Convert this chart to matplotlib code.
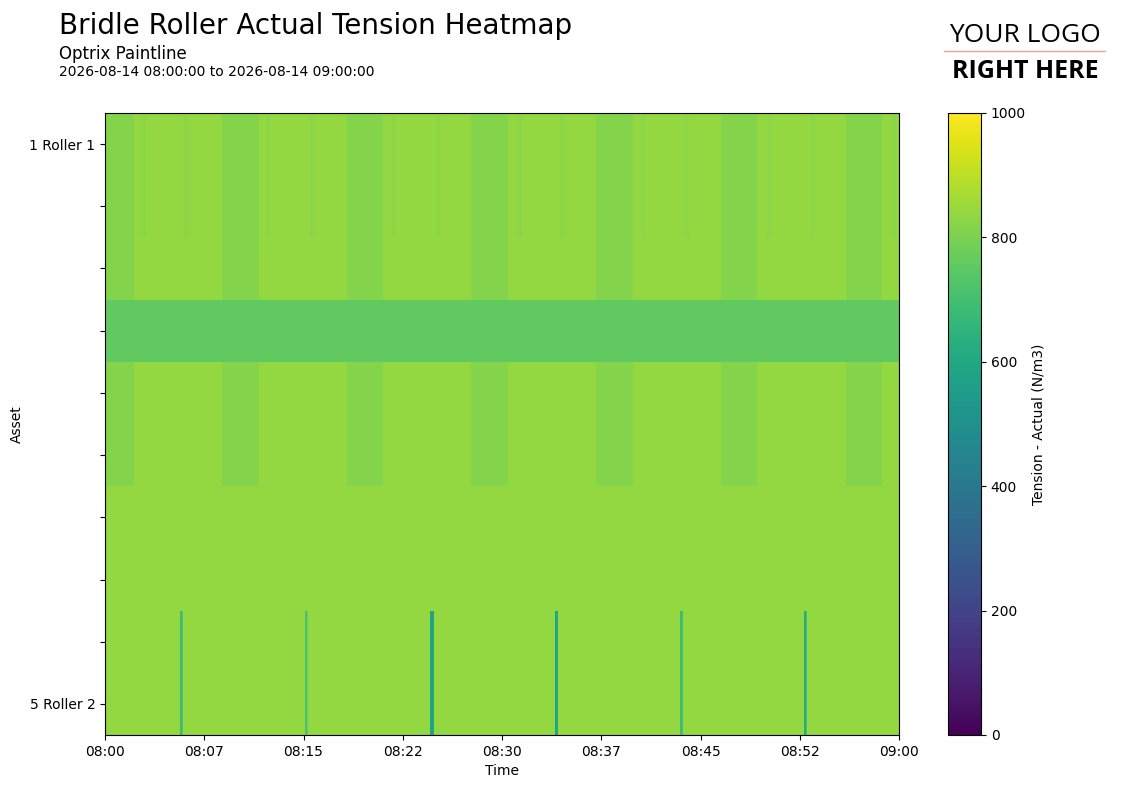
import numpy as np
import pandas as pd
import matplotlib
matplotlib.use("Agg")
import matplotlib.pyplot as plt
import matplotlib.dates as mdates

# ---------------- data ----------------
asset_names = ["1 Roller 1", "1 Roller 2", "2 Roller 1", "2 Roller 2", "3 Roller 1",
               "3 Roller 2", "4 Roller 1", "4 Roller 2", "5 Roller 1", "5 Roller 2"]
shown_labels = ["1 Roller 1", "", "", "", "", "", "", "", "", "5 Roller 2"]
start_time = "2026-08-14 08:00:00"
end_time = "2026-08-14 09:00:00"
step_seconds = 5

base_tension = 838          # normal running tension
stripe_tension = 816        # periodic lower tension (rows 1-6, except band row)
band_tension = 755          # row 4 constant tension
line_tension = 827          # short dips on first two rows

stripe_rows = [0, 1, 2, 4, 5]
band_rows = [3]
line_rows = [0, 1]
spike_rows = [8, 9]

stripe_start_min = [-0.6, 8.84, 18.29, 27.66, 37.10, 46.55, 56.00]
stripe_end_min = [2.19, 11.64, 21.01, 30.45, 39.90, 49.27, 58.72]
line_min = [2.75, 6.00, 12.19, 15.52, 21.64, 24.96, 31.16, 34.41, 40.53, 43.86, 49.98, 53.30, 59.42]
spike_min = [5.67, 15.11, 24.56, 34.00, 43.38, 52.82]
spike_vals_a = [680, 715, 580, 590, 690, 615]
spike_vals_b = [730, 760, 600, 600, 700, 700]

# ---------------- build grid ----------------
t0 = pd.Timestamp(start_time)
t1 = pd.Timestamp(end_time)
edges = pd.date_range(t0, t1, freq=f"{step_seconds}s")
ncol = len(edges) - 1
nrow = len(asset_names)
centers_min = (np.arange(ncol) + 0.5) * step_seconds / 60.0

Z = np.full((nrow, ncol), float(base_tension))
for r in band_rows:
    Z[r, :] = band_tension
for s, e in zip(stripe_start_min, stripe_end_min):
    mask = (centers_min >= s) & (centers_min < e)
    for r in stripe_rows:
        Z[r, mask] = stripe_tension
for m in line_min:
    c = int(round(m * 60 / step_seconds))
    for r in line_rows:
        Z[r, c:c + 4] = line_tension
for m, va, vb in zip(spike_min, spike_vals_a, spike_vals_b):
    c = int(round(m * 60 / step_seconds))
    for r in spike_rows:
        Z[r, c:c + 2] = va
        Z[r, c + 2] = vb

# ---------------- plot ----------------
fig = plt.figure(figsize=(11.21, 7.88), dpi=100)
ax = fig.add_axes([105 / 1121, 53 / 788, 794 / 1121, 622 / 788])
cax = fig.add_axes([948 / 1121, 53 / 788, 33 / 1121, 622 / 788])

xe = mdates.date2num(edges.to_pydatetime())
ye = np.arange(nrow + 1) - 0.5
mesh = ax.pcolormesh(xe, ye, Z, cmap="viridis", vmin=0, vmax=1000, shading="flat")
ax.set_ylim(nrow - 0.5, -0.5)
ax.set_xlim(xe[0], xe[-1])
ax.set_yticks(np.arange(nrow))
ax.set_yticklabels(shown_labels)
ticks = pd.date_range(t0, t1, freq="450s")
ax.set_xticks(mdates.date2num(ticks.to_pydatetime()))
ax.xaxis.set_major_formatter(mdates.DateFormatter("%H:%M"))
ax.set_xlabel("Time")
ax.set_ylabel("Asset")

cb = fig.colorbar(mesh, cax=cax)
cb.set_label("Tension - Actual (N/m3)")
cb.set_ticks([0, 200, 400, 600, 800, 1000])

fig.text(59 / 1121, 1 - 26 / 788, "Bridle Roller Actual Tension Heatmap", fontsize=20,
         va="center", ha="left")
fig.text(59 / 1121, 1 - 54 / 788, "Optrix Paintline", fontsize=12, va="center", ha="left")
fig.text(59 / 1121, 1 - 72 / 788, "2026-08-14 08:00:00 to 2026-08-14 09:00:00", fontsize=10,
         va="center", ha="left")

# logo placeholder
fig.text(1025 / 1121, 1 - 35 / 788, "YOUR LOGO", fontsize=19, family=["Open Sans", "DejaVu Sans"],
         va="center", ha="center")
fig.add_artist(plt.Line2D([944 / 1121, 1105 / 1121], [1 - 51 / 788, 1 - 51 / 788],
                          color="#e8a4a4", lw=1))
fig.text(1025 / 1121, 1 - 71 / 788, "RIGHT HERE", fontsize=18,
         family=["Liberation Sans Narrow", "Open Sans", "DejaVu Sans"], weight="bold",
         va="center", ha="center")

fig.savefig("out.png", dpi=100)
